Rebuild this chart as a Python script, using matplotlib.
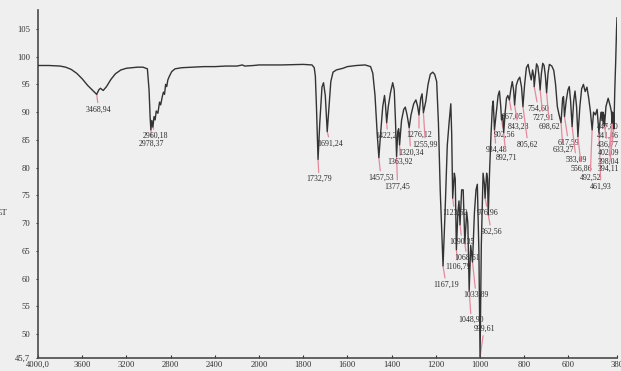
import numpy as np
import matplotlib
matplotlib.use("Agg")
import matplotlib.pyplot as plt

plt.rcParams["font.family"] = ["Liberation Serif", "DejaVu Serif"]

# FTIR spectrum: wavenumber (cm-1) and transmittance (%T)
wavenumber = [
    4000, 3900, 3800, 3750, 3700, 3650, 3600, 3550, 3500, 3468.94, 3450, 3435, 3410, 3380,
    3340, 3300, 3250, 3200, 3100, 3050, 3010, 2995, 2985, 2978.37, 2970, 2960.18, 2950, 2940,
    2930, 2915, 2900, 2890, 2875, 2865, 2855, 2845, 2835, 2825, 2810, 2790, 2760, 2700, 2600,
    2500, 2400, 2300, 2200, 2150, 2130, 2050, 2000,
    1900, 1800, 1760, 1750, 1745, 1740, 1732.79, 1725, 1715, 1708, 1700, 1691.24, 1683, 1675,
    1665, 1650, 1620, 1600, 1560, 1520, 1495, 1485, 1475, 1465, 1457.53, 1450, 1440, 1432, 1428,
    1422.24, 1415, 1405, 1395, 1388, 1382, 1377.45, 1372, 1368, 1363.92, 1355, 1345, 1338, 1330,
    1320.34, 1312, 1300, 1290, 1282, 1276.12, 1268, 1262, 1255.99, 1245, 1235, 1225, 1214, 1205,
    1196, 1188, 1180, 1167.19, 1158, 1148, 1140, 1132, 1128, 1123.62, 1116, 1112, 1106.79, 1100,
    1095, 1090.35, 1083, 1076, 1068.61, 1060, 1055, 1048.90, 1042, 1038, 1033.89, 1025, 1018,
    1012, 1005, 999.61, 994, 986, 980, 976.96, 970, 966, 962.56, 956, 950, 944, 940, 934.48, 926,
    918, 912, 906, 902.56, 897, 892.71, 886, 880, 874, 867.05, 860, 854, 848, 843.28, 836, 828,
    820, 812, 805.62, 798, 790, 782, 775, 768, 762, 757, 754.60, 750, 744, 738, 733, 727.91, 722,
    716, 710, 704, 698.62, 692, 686, 675, 666, 658, 650, 642, 633.27, 626, 622, 617.59, 610, 602,
    596, 590, 583.09, 576, 570, 563, 556.86, 548, 540, 532, 524, 516, 508, 500, 492.52, 486, 478,
    470, 461.93, 455, 451, 447.80, 444, 441.46, 439, 436.77, 430, 420, 410, 405, 402.09, 400,
    398.04, 396, 394.11, 390, 386, 382, 380,
]
transmittance = [
    98.4, 98.4, 98.3, 98.1, 97.7, 97.0, 96.0, 94.8, 93.8, 93.2, 94.0, 94.3, 93.9, 94.6,
    95.9, 96.9, 97.6, 97.9, 98.1, 98.1, 97.8, 94.0, 89.0, 86.8, 88.5, 87.3, 89.2, 88.6,
    90.2, 89.8, 91.8, 91.3, 92.8, 93.6, 93.2, 95.0, 94.6, 95.8, 96.5, 97.3, 97.8, 98.0, 98.1,
    98.2, 98.2, 98.3, 98.3, 98.5, 98.3, 98.4, 98.5,
    98.5, 98.6, 98.5, 98.0, 96.5, 91.0, 81.5, 88.0, 94.5, 95.3, 93.0, 86.5, 91.0, 95.5,
    97.2, 97.6, 97.9, 98.2, 98.4, 98.5, 98.2, 97.0, 93.0, 86.0, 81.8, 86.0, 91.0, 93.0, 91.5,
    88.1, 91.0, 93.5, 95.3, 94.0, 88.0, 82.0, 86.5, 87.0, 84.1, 88.5, 90.5, 90.9, 89.5,
    87.2, 89.5, 91.5, 92.2, 91.0, 89.5, 92.5, 93.3, 89.9, 92.0, 95.0, 96.8, 97.2, 96.8,
    95.5, 88.0, 76.0, 62.3, 72.0, 84.0, 88.0, 91.5, 86.0, 74.5, 79.0, 78.0, 65.2, 72.0,
    74.0, 69.7, 76.0, 76.0, 66.4, 72.0, 70.0, 57.9, 66.0, 64.5, 63.0, 72.0, 76.0,
    77.0, 65.0, 45.9, 66.0, 79.0, 77.0, 74.5, 79.0, 78.0, 71.5, 80.0, 86.0, 91.0, 92.0, 86.8, 90.0,
    93.0, 93.8, 91.0, 88.6, 89.5, 86.3, 90.0, 92.5, 93.0, 92.2, 94.2, 95.5, 94.0, 91.3, 94.8, 95.8,
    96.3, 94.5, 91.0, 95.0, 98.0, 98.6, 97.0, 95.8, 97.6, 96.5, 94.6, 96.5, 98.7, 98.2, 96.5, 94.0, 97.0,
    98.8, 98.4, 96.5, 93.5, 97.0, 98.6, 98.3, 97.5, 95.0, 91.0, 89.5, 88.1, 92.5, 92.8, 89.2, 92.0, 94.0,
    94.6, 92.0, 87.4, 92.0, 93.8, 91.0, 85.6, 91.0, 94.2, 95.0, 93.7, 94.5, 92.5, 90.0, 86.8, 90.0, 89.5,
    90.5, 86.3, 89.0, 90.0, 88.5, 90.0, 88.0, 89.5, 87.5, 91.0, 92.5, 91.0, 90.0, 88.0, 90.0,
    88.5, 89.5, 87.0, 94.0, 99.0, 105.0, 107.0,
]

# Labelled absorption bands
peak_wavenumbers = [
    3468.94, 2978.37, 2960.18, 1732.79, 1691.24, 1457.53, 1422.24, 1377.45, 1363.92, 1320.34,
    1276.12, 1255.99, 1167.19, 1123.62, 1106.79, 1090.35, 1068.61, 1048.90, 1033.89, 999.61,
    976.96, 962.56, 934.48, 902.56, 892.71, 867.05, 843.28, 805.62, 754.60, 727.91, 698.62,
    633.27, 617.59, 583.09, 556.86, 492.52, 461.93, 447.80, 441.46, 436.77, 402.09, 398.04,
    394.11,
]
# label placement relative to each band minimum (pixels)
label_offsets = [
    (2, -15), (1, -14), (3, -9), (1, -20), (3, -12), (2, -20), (1, -13), (1, -30), (1, -17),
    (1.5, -25), (0, -20), (2, -32), (3, -19), (2, -15), (1.5, -17), (2, -17), (2, -15),
    (2, -30), (3.5, -33), (4, 28), (3, -15), (3, -17), (1.6, -20), (2.6, -15), (2.4, -25),
    (3, -17), (3.5, -22), (5, -38), (4, -22), (3, -28), (3, -34), (2, -27), (4, -26),
    (4, -33), (3.5, -32), (-2, -48), (2, -54), (5.5, -6), (4, -12.5), (3, -19), (-3.5, -29.5),
    (-4.5, -41), (-5, -40),
]

x_ticks = [4000, 3600, 3200, 2800, 2400, 2000, 1800, 1600, 1400, 1200, 1000, 800, 600, 380]
x_tick_labels = ["4000,0", "3600", "3200", "2800", "2400", "2000", "1800", "1600", "1400",
                 "1200", "1000", "800", "600", "380"]
y_ticks = [45.7, 50, 55, 60, 65, 70, 75, 80, 85, 90, 95, 100, 105]
y_tick_labels = ["45,7", "50", "55", "60", "65", "70", "75", "80", "85", "90", "95", "100", "105"]


# Abscissa expansion below 2000 cm-1 (twice the scale of the upper range)
def forward(w):
    w = np.asarray(w, dtype=float)
    return np.where(w <= 2000, w / 200.0, 10.0 + (w - 2000.0) / 400.0)


def inverse(u):
    u = np.asarray(u, dtype=float)
    return np.where(u <= 10, u * 200.0, 2000.0 + (u - 10.0) * 400.0)


bg = "#efefef"
fig = plt.figure(figsize=(6.21, 3.71), dpi=100, facecolor=bg)
ax = fig.add_axes([38 / 621, 1 - 358 / 371, 579 / 621, 348 / 371], facecolor=bg)
ax.set_xscale("function", functions=(forward, inverse))
ax.set_xlim(4000, 380)
ax.set_ylim(45.7, 108.4)

ax.plot(wavenumber, transmittance, color="#333333", lw=1.0, zorder=3)

lookup = dict(zip(wavenumber, transmittance))
pink = "#e58a9c"
for w, (dx, dy) in zip(peak_wavenumbers, label_offsets):
    t = lookup[w]
    ax.annotate(f"{w:.2f}".replace(".", ","), xy=(w, t), xytext=(dx, dy),
                textcoords="offset pixels", ha="center", va="center",
                fontsize=5.7, color="#2a2a2a", zorder=2,
                arrowprops=dict(arrowstyle="-", color=pink, lw=0.9,
                                shrinkA=0, shrinkB=0), annotation_clip=False)

ax.set_xticks(x_ticks)
ax.set_xticklabels(x_tick_labels)
ax.set_yticks(y_ticks)
ax.set_yticklabels(y_tick_labels)
ax.xaxis.set_minor_locator(matplotlib.ticker.NullLocator())
ax.tick_params(axis="x", direction="in", length=2, width=0.8, labelsize=6.2, pad=2,
               colors="#333333")
ax.tick_params(axis="y", direction="out", length=1.5, width=0.8, labelsize=6.2, pad=4,
               colors="#333333")

for side in ("top", "right"):
    ax.spines[side].set_visible(False)
for side in ("left", "bottom"):
    ax.spines[side].set_color("#4a4a4a")
    ax.spines[side].set_linewidth(1.2)

fig.text(-5 / 621, 1 - 213 / 371, "%T", fontsize=6.5, va="center", ha="left", color="#333333")

fig.savefig("out.png", dpi=100, facecolor=bg)
